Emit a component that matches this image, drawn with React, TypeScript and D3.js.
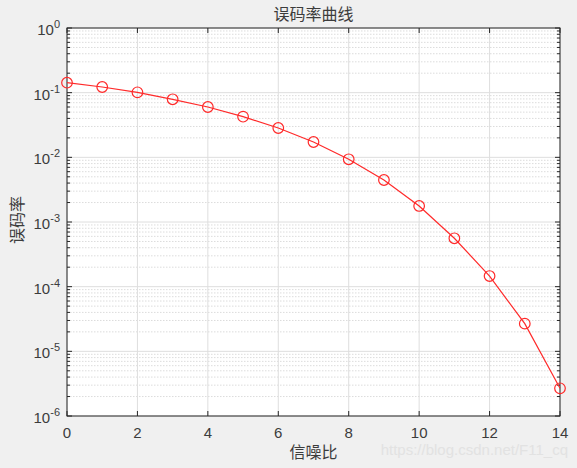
import React from "react";
import * as d3 from "d3";

const snr = [0, 1, 2, 3, 4, 5, 6, 7, 8, 9, 10, 11, 12, 13, 14];
const ber = [0.1426, 0.1224, 0.1013, 0.079, 0.06, 0.0425, 0.0284, 0.01726, 0.00933, 0.00446, 0.00177, 0.00056, 0.000146, 2.68e-5, 2.68e-6];
const xTicks = [0, 2, 4, 6, 8, 10, 12, 14];
const yExps = [0, -1, -2, -3, -4, -5, -6];
const title = "误码率曲线";
const xLabel = "信噪比";
const yLabel = "误码率";
const watermark = "https://blog.csdn.net/F11_cq";

const W = 577, H = 468;
const L = 67, R = 560, T = 28, B = 416;

export default function App() {
  const x = d3.scaleLinear().domain([0, 14]).range([L, R]);
  const y = d3.scaleLog().domain([1e-6, 1]).range([B, T]);
  const minor: number[] = [];
  for (let e = -6; e < 0; e++) for (let m = 2; m <= 9; m++) minor.push(m * Math.pow(10, e));
  const line = d3.line<number>().x((_, i) => x(snr[i])).y((d) => y(d));
  const axisColor = "#262626";
  const textColor = "#3c3c3c";
  const font = "'Liberation Sans', Arial, Helvetica, sans-serif";
  const cjk = "'Noto Sans CJK SC', sans-serif";
  return (
    <div style={{ position: "fixed", left: 0, top: 0 }}>
      <svg width={W} height={H} style={{ display: "block" }}>
        <rect x={0} y={0} width={W} height={H} fill="#f0f0f0" />
        <rect x={L} y={T} width={R - L} height={B - T} fill="#ffffff" />
        {minor.map((v, i) => (
          <line key={"mg" + i} x1={L} x2={R} y1={y(v)} y2={y(v)} stroke="#dcdcdc" strokeWidth={1} strokeDasharray="1.5,1.5" />
        ))}
        {yExps.map((e) => (
          <line key={"yg" + e} x1={L} x2={R} y1={y(Math.pow(10, e))} y2={y(Math.pow(10, e))} stroke="#dedede" strokeWidth={1} />
        ))}
        {xTicks.map((t) => (
          <line key={"xg" + t} x1={x(t)} x2={x(t)} y1={T} y2={B} stroke="#dedede" strokeWidth={1} />
        ))}
        {xTicks.map((t) => (
          <g key={"xt" + t}>
            <line x1={x(t)} x2={x(t)} y1={B} y2={B - 5} stroke={axisColor} />
            <line x1={x(t)} x2={x(t)} y1={T} y2={T + 5} stroke={axisColor} />
            <text x={x(t)} y={B + 22} textAnchor="middle" fontSize={15} fill={textColor} fontFamily={font}>{t}</text>
          </g>
        ))}
        {yExps.map((e) => (
          <g key={"yt" + e}>
            <line x1={L} x2={L + 5} y1={y(Math.pow(10, e))} y2={y(Math.pow(10, e))} stroke={axisColor} />
            <line x1={R} x2={R - 5} y1={y(Math.pow(10, e))} y2={y(Math.pow(10, e))} stroke={axisColor} />
            <text x={L - 7} y={y(Math.pow(10, e)) + 7} textAnchor="end" fontSize={15} fill={textColor} fontFamily={font}>
              10<tspan dy={-7} fontSize={11}>{e}</tspan>
            </text>
          </g>
        ))}
        {minor.map((v, i) => (
          <g key={"mt" + i}>
            <line x1={L} x2={L + 3} y1={y(v)} y2={y(v)} stroke={axisColor} />
            <line x1={R} x2={R - 3} y1={y(v)} y2={y(v)} stroke={axisColor} />
          </g>
        ))}
        <rect x={L} y={T} width={R - L} height={B - T} fill="none" stroke={axisColor} strokeWidth={1} />
        <path d={line(ber) || ""} fill="none" stroke="#ff2a2a" strokeWidth={1.2} />
        {ber.map((d, i) => (
          <circle key={"c" + i} cx={x(snr[i])} cy={y(d)} r={5.3} fill="none" stroke="#ff2a2a" strokeWidth={1.2} />
        ))}
        <text x={(L + R) / 2} y={20} textAnchor="middle" fontSize={16} fill={textColor} fontFamily={cjk}>{title}</text>
        <text x={(L + R) / 2} y={458} textAnchor="middle" fontSize={16} fill={textColor} fontFamily={cjk}>{xLabel}</text>
        <text transform={`translate(23, ${(T + B) / 2 - 2}) rotate(-90)`} textAnchor="middle" fontSize={16} fill={textColor} fontFamily={cjk}>{yLabel}</text>
        <text x={568} y={455} textAnchor="end" fontSize={15} fill="#e2e2e2" fontFamily={font}>{watermark}</text>
      </svg>
    </div>
  );
}
